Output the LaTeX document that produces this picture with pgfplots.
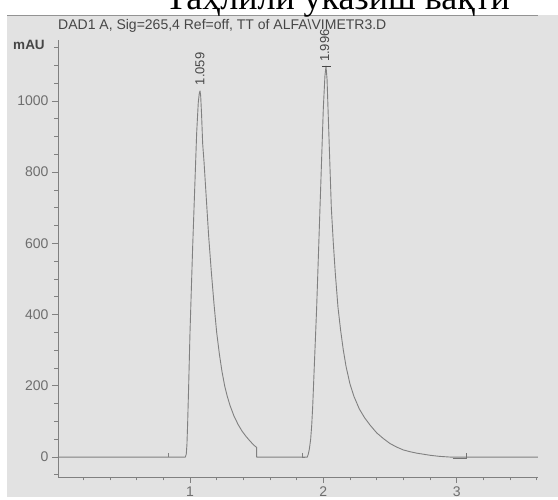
\documentclass[border=0pt]{standalone}
\usepackage{fontspec}
\setmainfont{Liberation Sans}
\newfontfamily\serifcyr{Liberation Serif}
\usepackage{pgfplots}
\pgfplotsset{compat=1.18}
\definecolor{bg}{RGB}{226,226,226}
\definecolor{ink}{RGB}{128,128,128}
\definecolor{lbl}{RGB}{110,110,110}
\definecolor{ttl}{RGB}{70,70,70}
\begin{document}
\begin{tikzpicture}[x=1pt,y=1pt]
\useasboundingbox (0,0) rectangle (558,499);
\clip (0,0) rectangle (558,499);
\fill[white] (0,0) rectangle (558,499);
\fill[bg] (7,2) rectangle (558,484);
\draw[gray!85, line width=0.8pt] (7,484) -- (538,484);
\node[anchor=base west, inner sep=0, text=black,
      font=\serifcyr\fontsize{36}{40}\selectfont] at (165,489) {Таҳлили указиш вақти};
\node[anchor=west, inner sep=0, text=ttl, font=\fontsize{14}{16}\selectfont]
  at (58,473) {DAD1 A, Sig=265,4 Ref=off, TT of ALFA\textbackslash VIMETR3.D};
\node[anchor=center, inner sep=0, text=ttl, font=\bfseries\fontsize{13.5}{16}\selectfont]
  at (29,454) {mAU};

\begin{axis}[
  at={(58pt,22pt)}, anchor=south west,
  scale only axis, width=480pt, height=437pt,
  xmin=0.01, xmax=3.61, ymin=-56, ymax=1171,
  axis lines*=left,
  axis line style={draw=ink, line width=0.8pt, -},
  tick style={draw=ink, line width=0.8pt},
  tick align=outside,
  major tick length=6pt, minor tick length=3.5pt,
  xtick={1,2,3},
  minor xtick={0.2,0.4,...,3.61},
  ytick={0,200,...,1000},
  minor ytick={-50,0,...,1150},
  tick label style={text=lbl, font=\fontsize{14}{16}\selectfont},
  /pgf/number format/assume math mode=true,
  /pgf/number format/1000 sep={},
  clip mode=individual,
]
% baseline and both peaks
\addplot[ink, line width=0.9pt, line join=round, no marks] coordinates {
  (0.01,0) (0.965,0) (0.972,8) (0.977,35) (0.982,90) (0.99,200) (1.00,350)
  (1.01,470) (1.02,590) (1.035,750) (1.05,910) (1.062,995) (1.07,1022)
  (1.075,1028) (1.08,1015) (1.087,960) (1.095,880) (1.105,830) (1.12,740)
  (1.14,620) (1.16,520) (1.18,430) (1.20,350) (1.22,290) (1.24,240)
  (1.26,200) (1.28,170) (1.30,145) (1.33,115) (1.36,92) (1.39,73)
  (1.42,58) (1.45,45) (1.48,33) (1.50,27) (1.50,0)
  (1.88,0) (1.887,8) (1.895,22) (1.905,50) (1.913,90) (1.92,140) (1.935,280)
  (1.95,420) (1.975,700) (2.00,980) (2.012,1070) (2.02,1098) (2.028,1060)
  (2.035,980) (2.06,700) (2.075,600) (2.09,515) (2.11,420) (2.13,355)
  (2.15,300) (2.17,255) (2.20,205) (2.23,170) (2.27,135) (2.31,110)
  (2.35,90) (2.40,68) (2.45,52) (2.50,38) (2.55,28) (2.60,20) (2.65,15)
  (2.70,11) (2.75,8) (2.80,5) (2.87,2) (2.95,0) (3.61,0)
};
% integration event ticks
\addplot[ink, line width=0.9pt, no marks] coordinates {(0.835,0) (0.835,12)};
\addplot[ink, line width=0.9pt, no marks] coordinates {(1.845,12) (1.845,0) (1.86,0)};
\addplot[gray!110, line width=0.9pt, no marks] coordinates {(2.97,-4) (3.07,-4) (3.07,10)};
% apex marker of second peak
\addplot[ttl, line width=0.9pt, no marks] coordinates {(1.99,1098) (2.055,1098)};
\node[rotate=90, inner sep=0, text=ttl, font=\fontsize{13}{15}\selectfont]
  at (axis cs:1.075,1090) {1.059};
\node[rotate=90, inner sep=0, text=ttl, font=\fontsize{13}{15}\selectfont]
  at (axis cs:2.01,1155) {1.996};
\end{axis}
\end{tikzpicture}
\end{document}
